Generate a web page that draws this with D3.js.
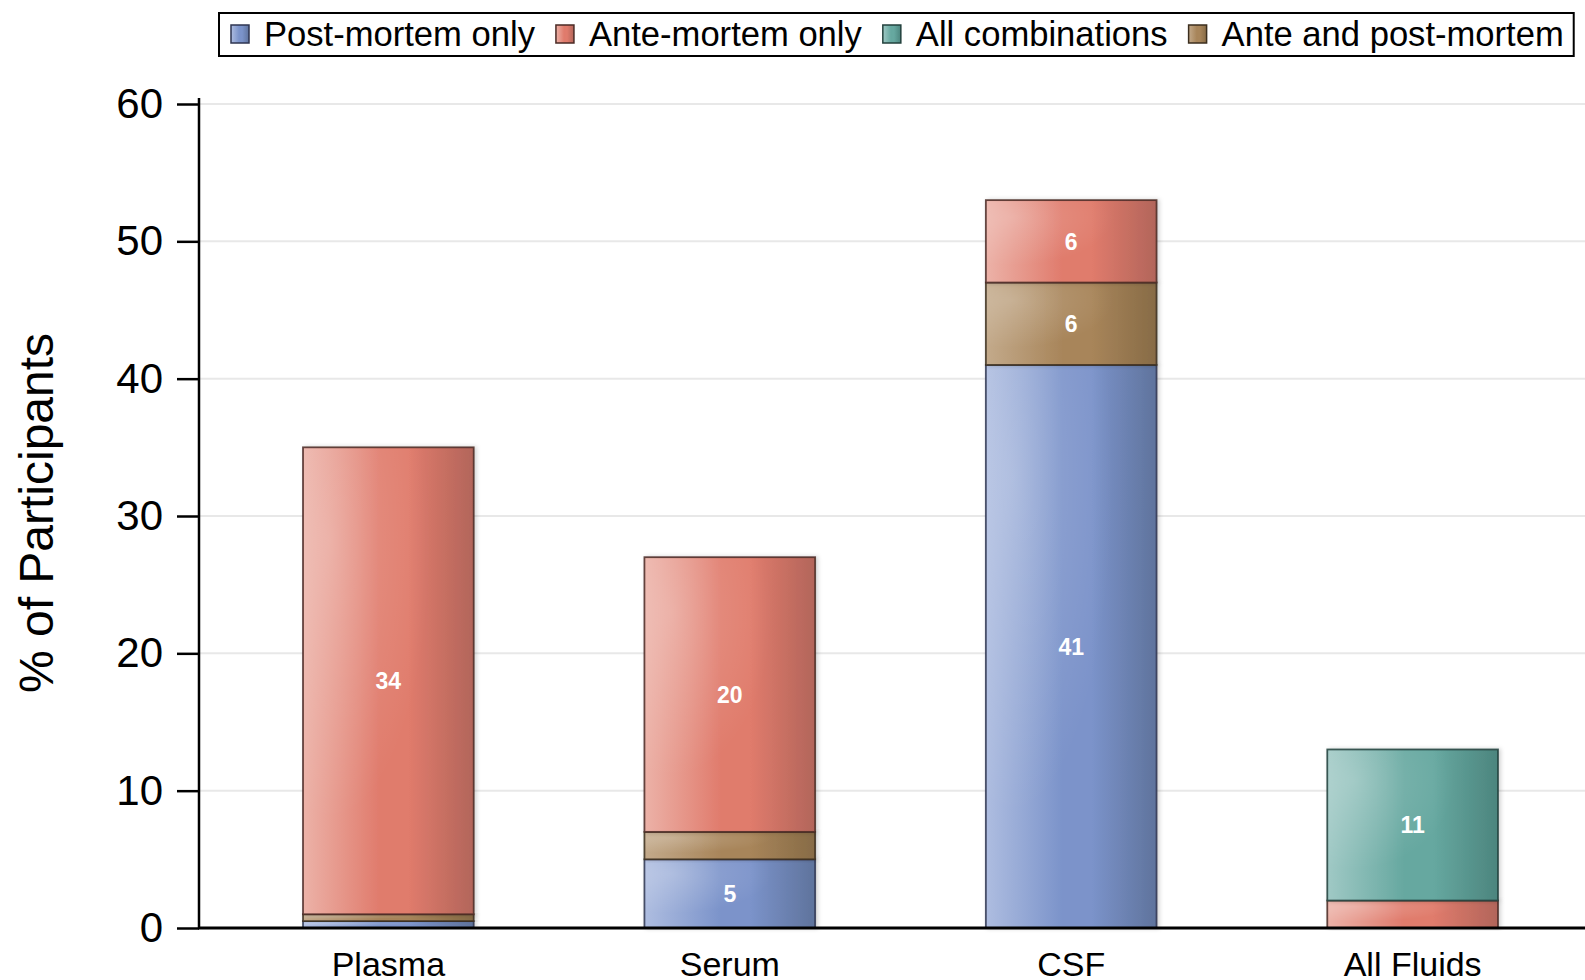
<!DOCTYPE html>
<html>
<head>
<meta charset="utf-8">
<script src="https://cdn.jsdelivr.net/npm/d3@7/dist/d3.min.js"></script>
<style>
  html, body { margin: 0; padding: 0; background: #fff; }
  svg { display: block; font-family: "Liberation Sans", Arial, Helvetica, sans-serif; }
</style>
</head>
<body>
<svg id="chart" width="1585" height="980"></svg>
<script>
// Fluid types on the x axis
const categories = ["Plasma", "Serum", "CSF", "All Fluids"];

// Percent of participants per sampling timing (stacked bottom to top)
const postMortemOnly = [0.5, 5, 41, 0];
const anteAndPostMortem = [0.5, 2, 6, 0];
const anteMortemOnly = [34, 20, 6, 2];
const allCombinations = [0, 0, 0, 11];

const yTicks = [0, 10, 20, 30, 40, 50, 60];

const seriesKeys = ["post", "both", "ante", "all"];
const seriesNames = {
  post: "Post-mortem only",
  ante: "Ante-mortem only",
  all: "All combinations",
  both: "Ante and post-mortem"
};
const legendOrder = ["post", "ante", "all", "both"];

const palette = {
  post: { light: "#aebde0", base: "#7b93ca", dark: "#5f739c", edge: "#2e3550" },
  ante: { light: "#ecb2a8", base: "#e07b6c", dark: "#b2655a", edge: "#4a2a25" },
  both: { light: "#c3aa8b", base: "#a8855a", dark: "#876b46", edge: "#3b2e1e" },
  all:  { light: "#a0c9c5", base: "#66a8a0", dark: "#4c857e", edge: "#22403c" }
};

const rows = categories.map((c, i) => ({
  category: c,
  post: postMortemOnly[i],
  both: anteAndPostMortem[i],
  ante: anteMortemOnly[i],
  all: allCombinations[i]
}));

const svg = d3.select("#chart");
const defs = svg.append("defs");

// Shaded fills: lighter left edge, darker right edge, soft highlight at top-left
seriesKeys.forEach(k => {
  const p = palette[k];
  const g = defs.append("linearGradient")
    .attr("id", "grad-" + k)
    .attr("x1", "0%").attr("y1", "0%").attr("x2", "100%").attr("y2", "0%");
  g.append("stop").attr("offset", "0%").attr("stop-color", p.light);
  g.append("stop").attr("offset", "45%").attr("stop-color", p.base);
  g.append("stop").attr("offset", "62%").attr("stop-color", p.base);
  g.append("stop").attr("offset", "100%").attr("stop-color", p.dark);
});
const hl = defs.append("radialGradient")
  .attr("id", "highlight")
  .attr("cx", "15%").attr("cy", "20%").attr("r", "60%");
hl.append("stop").attr("offset", "0%").attr("stop-color", "#fff").attr("stop-opacity", 0.2);
hl.append("stop").attr("offset", "100%").attr("stop-color", "#fff").attr("stop-opacity", 0);

const shadow = defs.append("filter").attr("id", "shadow")
  .attr("x", "-10%").attr("y", "-10%").attr("width", "120%").attr("height", "120%");
shadow.append("feDropShadow")
  .attr("dx", 2).attr("dy", 0).attr("stdDeviation", 2)
  .attr("flood-color", "#000").attr("flood-opacity", 0.18);

const x = d3.scaleBand()
  .domain(categories)
  .range([303, 1498])
  .paddingInner(0.5)
  .paddingOuter(0);

const y = d3.scaleLinear()
  .domain([0, 60])
  .range([928, 104]);

const axisLeftX = 199;
const plotRight = 1585;

// Horizontal grid
svg.append("g")
  .selectAll("line")
  .data(yTicks.filter(t => t > 0))
  .join("line")
  .attr("x1", axisLeftX).attr("x2", plotRight)
  .attr("y1", d => y(d)).attr("y2", d => y(d))
  .attr("stroke", "#e8e8e8")
  .attr("stroke-width", 2);

// Stacked bars
const stack = d3.stack().keys(seriesKeys);
const layers = stack(rows);

const barG = svg.append("g");
layers.forEach(layer => {
  const k = layer.key;
  const segs = layer.filter(d => d[1] - d[0] > 0);
  const g = barG.append("g");
  g.selectAll("rect.fill")
    .data(segs)
    .join("rect")
    .attr("class", "fill")
    .attr("x", d => x(d.data.category))
    .attr("width", x.bandwidth())
    .attr("y", d => y(d[1]))
    .attr("height", d => y(d[0]) - y(d[1]))
    .attr("fill", "url(#grad-" + k + ")")
    .attr("stroke", palette[k].edge)
    .attr("stroke-opacity", 0.85)
    .attr("stroke-width", 1.8)
    .attr("filter", "url(#shadow)");
  g.selectAll("rect.hl")
    .data(segs)
    .join("rect")
    .attr("class", "hl")
    .attr("x", d => x(d.data.category) + 1)
    .attr("width", x.bandwidth() - 2)
    .attr("y", d => y(d[1]) + 1)
    .attr("height", d => Math.max(0, y(d[0]) - y(d[1]) - 2))
    .attr("fill", "url(#highlight)");
});

// Segment value labels
layers.forEach(layer => {
  barG.append("g")
    .selectAll("text")
    .data(layer.filter(d => d[1] - d[0] >= 5))
    .join("text")
    .attr("x", d => x(d.data.category) + x.bandwidth() / 2)
    .attr("y", d => (y(d[0]) + y(d[1])) / 2)
    .attr("dy", "0.36em")
    .attr("text-anchor", "middle")
    .attr("fill", "#fff")
    .attr("font-weight", "bold")
    .attr("font-size", 23)
    .text(d => d3.format("d")(d[1] - d[0]));
});

// Y axis
const yAxis = d3.axisLeft(y)
  .tickValues(yTicks)
  .tickSize(22)
  .tickPadding(14)
  .tickFormat(d3.format("d"));
const yG = svg.append("g")
  .attr("transform", `translate(${axisLeftX},0)`)
  .call(yAxis);
yG.select(".domain").remove();
yG.selectAll(".tick line").attr("stroke", "#000").attr("stroke-width", 2.5);
yG.selectAll(".tick text")
  .attr("font-size", 42)
  .attr("fill", "#000")
  .attr("font-family", "'Liberation Sans', Arial, sans-serif");
svg.append("line")
  .attr("x1", axisLeftX).attr("x2", axisLeftX)
  .attr("y1", 98).attr("y2", 929)
  .attr("stroke", "#000").attr("stroke-width", 2.5);

// X axis
const xAxis = d3.axisBottom(x).tickSize(0).tickPadding(24);
const xG = svg.append("g")
  .attr("transform", `translate(0,${y(0)})`)
  .call(xAxis);
xG.select(".domain").remove();
xG.selectAll(".tick text")
  .attr("font-size", 34)
  .attr("fill", "#000")
  .attr("font-family", "'Liberation Sans', Arial, sans-serif");
svg.append("line")
  .attr("x1", axisLeftX - 1).attr("x2", plotRight)
  .attr("y1", y(0)).attr("y2", y(0))
  .attr("stroke", "#000").attr("stroke-width", 3);

// Y axis title
svg.append("text")
  .attr("transform", `translate(53,${(y(0) + y(60)) / 2 - 3}) rotate(-90)`)
  .attr("text-anchor", "middle")
  .attr("font-size", 48)
  .attr("fill", "#000")
  .text("% of Participants");

// Legend
const legend = svg.append("g");
const legendBox = legend.append("rect")
  .attr("x", 219).attr("y", 13)
  .attr("height", 43)
  .attr("fill", "#fff")
  .attr("stroke", "#000")
  .attr("stroke-width", 2);
const itemGap = 21;
let cx = 231;
legendOrder.forEach(k => {
  legend.append("rect")
    .attr("x", cx).attr("y", 25)
    .attr("width", 18).attr("height", 18)
    .attr("fill", "url(#grad-" + k + ")")
    .attr("stroke", palette[k].edge)
    .attr("stroke-width", 1.5);
  const t = legend.append("text")
    .attr("x", cx + 33).attr("y", 46)
    .attr("font-size", 34.6)
    .attr("fill", "#000")
    .text(seriesNames[k]);
  cx += 33 + t.node().getComputedTextLength() + itemGap;
});
legendBox.attr("width", cx - itemGap + 10 - 219);
</script>
</body>
</html>
